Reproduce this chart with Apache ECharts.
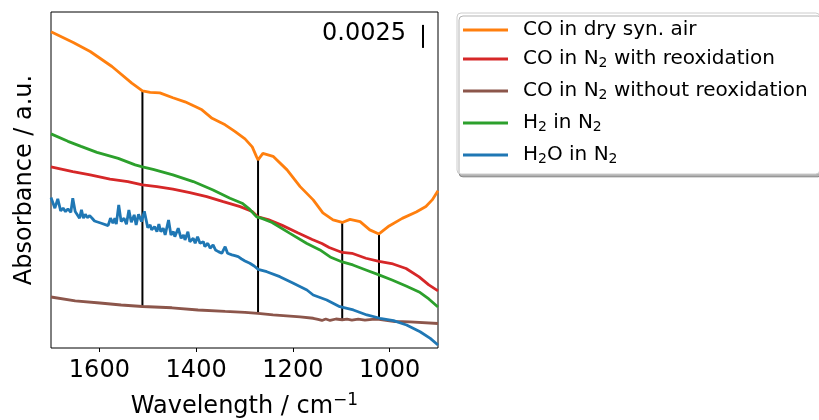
<!DOCTYPE html>
<html><head><meta charset="utf-8">
<script src="https://cdn.jsdelivr.net/npm/echarts@6/dist/echarts.min.js"></script>
<style>html,body{margin:0;padding:0;background:#fff}#c{width:819px;height:420px}</style>
</head><body><div id="c"></div>
<script>
// ---- data ----
const xTicks = [1600, 1400, 1200, 1000];
const seriesNames = ['CO in dry syn. air', 'CO in N_2 with reoxidation', 'CO in N_2 without reoxidation', 'H_2 in N_2', 'H_2O in N_2'];
const seriesColors = ['#ff7f0e', '#d62728', '#8c564b', '#2ca02c', '#1f77b4'];

const coAirWn = [1700,1654,1619,1574,1533,1511,1495,1475,1448,1423,1402,1388,1367,1340,1320,1299,1284,1275,1272,1262,1241,1212,1185,1158,1138,1117,1098,1082,1061,1041,1022,1001,974,945,925,912,900];
const coAirAbs = [0.03435,0.03319,0.03221,0.03058,0.02877,0.02794,0.02777,0.02772,0.02718,0.02674,0.02623,0.02587,0.02495,0.02424,0.02353,0.02272,0.02185,0.02076,0.02044,0.02114,0.02082,0.01935,0.01753,0.01609,0.01467,0.01391,0.01364,0.01397,0.01373,0.01283,0.01239,0.01326,0.01408,0.01478,0.01538,0.01609,0.01707];

const coReoxWn = [1700,1655,1619,1578,1541,1511,1481,1448,1413,1378,1344,1309,1284,1272,1251,1222,1189,1160,1140,1125,1098,1078,1049,1022,993,966,939,919,900];
const coReoxAbs = [0.01967,0.01916,0.01881,0.01834,0.01808,0.01772,0.01753,0.01725,0.01688,0.01645,0.01590,0.01536,0.01482,0.01424,0.01395,0.01332,0.01250,0.01179,0.01136,0.01092,0.01038,0.01029,0.00975,0.00940,0.00913,0.00864,0.00772,0.00685,0.00620];

const coNoReoxWn = [1700,1650,1599,1555,1511,1450,1396,1340,1299,1272,1241,1185,1158,1148,1140,1132,1123,1111,1098,1088,1078,1065,1051,1036,1022,989,958,900];
const coNoReoxAbs = [0.00554,0.00511,0.00489,0.00467,0.00451,0.00437,0.00413,0.00397,0.00388,0.00375,0.00359,0.00337,0.00323,0.00310,0.00299,0.00315,0.00299,0.00315,0.00307,0.00313,0.00304,0.00313,0.00302,0.00310,0.00310,0.00288,0.00283,0.00266];

const h2Wn = [1700,1665,1638,1605,1561,1526,1511,1489,1448,1406,1365,1330,1305,1289,1275,1264,1243,1206,1171,1144,1123,1098,1076,1049,1022,995,966,939,919,900];
const h2Abs = [0.02326,0.02245,0.02190,0.02125,0.02060,0.01989,0.01967,0.01940,0.01881,0.01808,0.01717,0.01627,0.01573,0.01505,0.01424,0.01408,0.01364,0.01245,0.01136,0.01065,0.00989,0.00935,0.00902,0.00848,0.00794,0.00739,0.00674,0.00609,0.00533,0.00446];

const h2oWn = [1700,1692,1686,1680,1675,1670,1665,1659,1655,1650,1646,1641,1637,1633,1629,1625,1620,1615,1610,1596,1582,1577,1572,1568,1565,1560,1555,1549,1544,1539,1534,1528,1524,1519,1513,1507,1500,1495,1492,1486,1481,1477,1473,1468,1464,1457,1452,1447,1444,1437,1431,1426,1423,1417,1413,1406,1402,1397,1392,1385,1382,1376,1371,1365,1360,1354,1347,1340,1335,1326,1320,1313,1306,1299,1289,1280,1272,1254,1227,1199,1171,1158,1130,1103,1075,1047,1020,992,965,937,916,900];
const h2oAbs = [0.01634,0.01519,0.01620,0.01489,0.01519,0.01482,0.01511,0.01475,0.01627,0.01482,0.01500,0.01410,0.01500,0.01410,0.01453,0.01416,0.01438,0.01410,0.01380,0.01355,0.01329,0.01410,0.01355,0.01410,0.01345,0.01554,0.01373,0.01410,0.01345,0.01500,0.01366,0.01446,0.01337,0.01453,0.01373,0.01484,0.01308,0.01337,0.01283,0.01319,0.01264,0.01345,0.01264,0.01301,0.01228,0.01391,0.01228,0.01264,0.01210,0.01301,0.01192,0.01228,0.01174,0.01264,0.01155,0.01192,0.01138,0.01210,0.01138,0.01155,0.01101,0.01138,0.01084,0.01120,0.01065,0.01047,0.01029,0.01101,0.01029,0.01011,0.01003,0.00992,0.00967,0.00946,0.00921,0.00891,0.00855,0.00829,0.00775,0.00703,0.00630,0.00576,0.00522,0.00449,0.00413,0.00359,0.00323,0.00297,0.00250,0.00177,0.00105,0.00033];

const peakPositions = [1511, 1272, 1098, 1022];
const scaleBarValue = 0.0025;
const scaleBarLabel = '0.0025';

// ---- build ----
const FONT = 'DejaVu Sans';
const wnSets = [coAirWn, coReoxWn, coNoReoxWn, h2Wn, h2oWn];
const absSets = [coAirAbs, coReoxAbs, coNoReoxAbs, h2Abs, h2oAbs];
const pairs = (w, a) => w.map((v, i) => [v, a[i]]);
function interp(w, a, x) {
  for (let i = 0; i < w.length - 1; i++) {
    const x0 = w[i], x1 = w[i + 1];
    if ((x <= x0 && x >= x1) || (x >= x0 && x <= x1)) {
      const t = x1 === x0 ? 0 : (x - x0) / (x1 - x0);
      return a[i] + t * (a[i + 1] - a[i]);
    }
  }
  return a[a.length - 1];
}
const richName = s => '{n|' + s.replace(/_(\d)/g, '}{s|$1}{n|') + '}';

const series = [];
peakPositions.forEach(p => {
  series.push({
    type: 'line', silent: true, showSymbol: false, z: 1,
    lineStyle: { color: '#000', width: 2 },
    data: [[p, interp(coNoReoxWn, coNoReoxAbs, p)], [p, interp(coAirWn, coAirAbs, p)]]
  });
});
seriesNames.forEach((n, i) => {
  series.push({
    name: n, type: 'line', showSymbol: false, silent: true, z: 2,
    color: seriesColors[i],
    lineStyle: { color: seriesColors[i], width: 2.8 },
    data: pairs(wnSets[i], absSets[i])
  });
});
// scale bar
const sbX = 931, sbTop = 0.0351;
series.push({
  type: 'line', silent: true, showSymbol: true, symbol: 'circle', symbolSize: 0, z: 3,
  lineStyle: { color: '#000', width: 2 },
  itemStyle: { color: '#000' },
  data: [
    { value: [sbX, sbTop], label: { show: true, formatter: scaleBarLabel, position: 'left', distance: 17, offset: [0, 9],
      fontFamily: FONT, fontSize: 24, color: '#000' } },
    { value: [sbX, sbTop - scaleBarValue] }
  ]
});

const chart = echarts.init(document.getElementById('c'), null, { renderer: 'canvas' });
chart.setOption({
  animation: false,
  backgroundColor: '#fff',
  grid: { left: 51, right: 381, top: 12, bottom: 72, outerBoundsMode: 'none', containLabel: false,
    show: true, borderColor: '#000', borderWidth: 1, backgroundColor: 'transparent' },
  xAxis: {
    type: 'value', min: 900, max: 1700, inverse: true,
    axisLine: { show: false },
    splitLine: { show: false },
    axisTick: { show: true, customValues: xTicks, length: 4, lineStyle: { color: '#000', width: 1 } },
    axisLabel: { customValues: xTicks, formatter: v => String(v), fontFamily: FONT, fontSize: 24, color: '#000', margin: 11 },
    name: '{n|Wavelength / cm}{p|\u22121}',
    nameLocation: 'middle', nameGap: 44,
    nameTextStyle: {
      fontFamily: FONT, color: '#000',
      rich: {
        n: { fontFamily: FONT, fontSize: 24, lineHeight: 30, color: '#000' },
        p: { fontFamily: FONT, fontSize: 17, lineHeight: 20, verticalAlign: 'top', color: '#000' }
      }
    }
  },
  yAxis: {
    type: 'value', min: 0, max: 0.0365,
    axisLine: { show: false }, axisTick: { show: false }, axisLabel: { show: false }, splitLine: { show: false },
    name: 'Absorbance / a.u.', nameLocation: 'middle', nameGap: 14,
    nameTextStyle: { fontFamily: FONT, fontSize: 24, color: '#000' }
  },
  legend: {
    data: seriesNames,
    orient: 'vertical', left: 457, top: 13,
    icon: 'rect', itemWidth: 45, itemHeight: 3, itemGap: 9,
    padding: [7, 12, 6, 6],
    backgroundColor: '#fff', borderColor: '#cccccc', borderWidth: 1, borderRadius: 4,
    shadowColor: 'rgba(0,0,0,0.3)', shadowOffsetX: 2, shadowOffsetY: 3, shadowBlur: 0,
    selectedMode: false,
    formatter: richName,
    textStyle: {
      padding: [0, 0, 0, 10],
      rich: {
        n: { fontFamily: FONT, fontSize: 20, lineHeight: 26, color: '#000' },
        s: { fontFamily: FONT, fontSize: 14, lineHeight: 14, verticalAlign: 'bottom', padding: [0, 0, 2, 0], color: '#000' }
      }
    }
  },
  series: series
});
</script>
</body></html>
